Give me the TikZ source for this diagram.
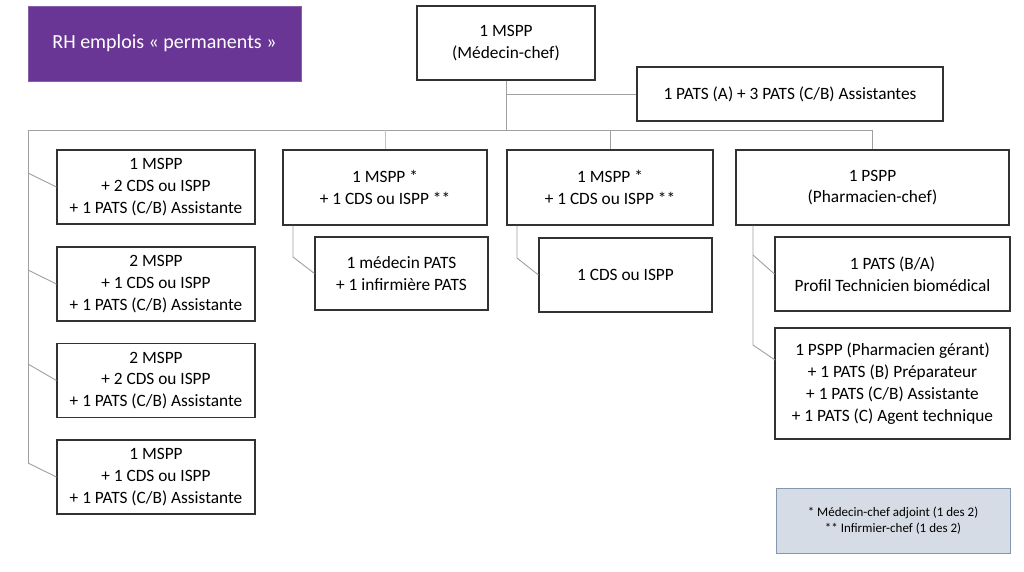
\documentclass[tikz,border=0pt]{standalone}
\usepackage{fontspec}
\setmainfont{Carlito}
\usetikzlibrary{calc}
\definecolor{titlepurple}{RGB}{106,54,150}
\definecolor{boxborder}{RGB}{50,50,50}
\definecolor{linkgray}{RGB}{160,160,160}
\definecolor{linkblue}{RGB}{170,198,232}
\definecolor{legendfill}{RGB}{214,220,229}
\definecolor{legendborder}{RGB}{132,151,176}
\tikzset{
  orgbox/.style={draw=boxborder, line width=1.1pt, fill=white, inner sep=0pt, align=center,
    font=\fontsize{17.3}{21.8}\selectfont},
  link/.style={draw=linkgray, line width=0.9pt},
}
\begin{document}
\begin{tikzpicture}[x=1pt,y=-1pt]
\useasboundingbox[fill=white] (0,0) rectangle (1024,571);
% title
\node[fill=titlepurple, draw=titlepurple!80!white, line width=0.6pt, minimum width=273pt, minimum height=75pt, inner sep=0pt,
  text=white, font=\fontsize{20}{24}\selectfont] (title) at (164.5,43.5) {RH emplois « permanents »};
% top
\node[orgbox, minimum width=178pt, minimum height=74pt] (top) at (506,43) {1 MSPP\\(Médecin-chef)};
\node[orgbox, minimum width=306pt, minimum height=54pt] (pats) at (790,94) {1 PATS (A) + 3 PATS (C/B) Assistantes};
% column 1
\node[orgbox, minimum width=198pt, minimum height=74pt] (c1a) at (156,187) {1 MSPP\\+ 2 CDS ou ISPP\\+ 1 PATS (C/B) Assistante};
\node[orgbox, minimum width=198pt, minimum height=74pt] (c1b) at (156,284) {2 MSPP\\+ 1 CDS ou ISPP\\+ 1 PATS (C/B) Assistante};
\node[orgbox, minimum width=198pt, minimum height=74pt] (c1c) at (156,380.5) {2 MSPP\\+ 2 CDS ou ISPP\\+ 1 PATS (C/B) Assistante};
\node[orgbox, minimum width=198pt, minimum height=74pt] (c1d) at (156,477) {1 MSPP\\+ 1 CDS ou ISPP\\+ 1 PATS (C/B) Assistante};
% column 2
\node[orgbox, minimum width=204pt, minimum height=75pt] (c2) at (385,187.5) {1 MSPP *\\+ 1 CDS ou ISPP **};
\node[orgbox, minimum width=173pt, minimum height=73pt] (c2s) at (401.5,273.5) {1 médecin PATS\\+ 1 infirmière PATS};
% column 3
\node[orgbox, minimum width=206pt, minimum height=75pt] (c3) at (610,187.5) {1 MSPP *\\+ 1 CDS ou ISPP **};
\node[orgbox, minimum width=173pt, minimum height=74pt] (c3s) at (625.5,275) {1 CDS ou ISPP};
% column 4
\node[orgbox, minimum width=273pt, minimum height=75pt] (c4) at (872.5,187.5) {1 PSPP\\(Pharmacien-chef)};
\node[orgbox, minimum width=235pt, minimum height=74pt] (c4a) at (892.5,274) {1 PATS (B/A)\\Profil Technicien biomédical};
\node[orgbox, minimum width=235pt, minimum height=111pt] (c4b) at (892.5,383.5) {1 PSPP (Pharmacien gérant)\\+ 1 PATS (B) Préparateur\\+ 1 PATS (C/B) Assistante\\+ 1 PATS (C) Agent technique};
% legend
\node[fill=legendfill, draw=legendborder, line width=1pt, minimum width=234pt, minimum height=65pt, inner sep=0pt, align=center,
  font=\fontsize{13}{16}\selectfont] (legend) at (893,520.5) {* Médecin-chef adjoint (1 des 2)\\** Infirmier-chef (1 des 2)};
% named coordinates
\coordinate (busL) at (28,130);
\coordinate (l1) at (28,173);
\coordinate (l2) at (28,270);
\coordinate (l3) at (28,364);
\coordinate (l4) at (28,463);
\coordinate (k2) at (293,257);
\coordinate (k3) at (517,258);
\coordinate (m1) at (753,255);
\coordinate (m2) at (753,345);
\coordinate (m2e) at (775,360);
% connectors
\draw[link] (top.south) -- (top.south |- busL);
\draw[link] (top.south |- pats.west) -- (pats.west);
\draw[link] (busL) -- (c4.north |- busL) -- (c4.north);
\draw[draw=linkblue, line width=0.9pt] (c2.north |- busL) -- (c2.north);
\draw[link] (c3.north |- busL) -- (c3.north);
\draw[link] (busL) -- (l4);
\draw[link] (l1) -- (c1a.west);
\draw[link] (l2) -- (c1b.west);
\draw[link] (l3) -- (c1c.west);
\draw[link] (l4) -- (c1d.west);
\draw[link] (k2 |- c2.south) -- (k2) -- (c2s.west);
\draw[link] (k3 |- c3.south) -- (k3) -- (c3s.west);
\draw[link] (m1 |- c4.south) -- (m2) -- (m2e);
\draw[link] (m1) -- (c4a.west);
\end{tikzpicture}
\end{document}
